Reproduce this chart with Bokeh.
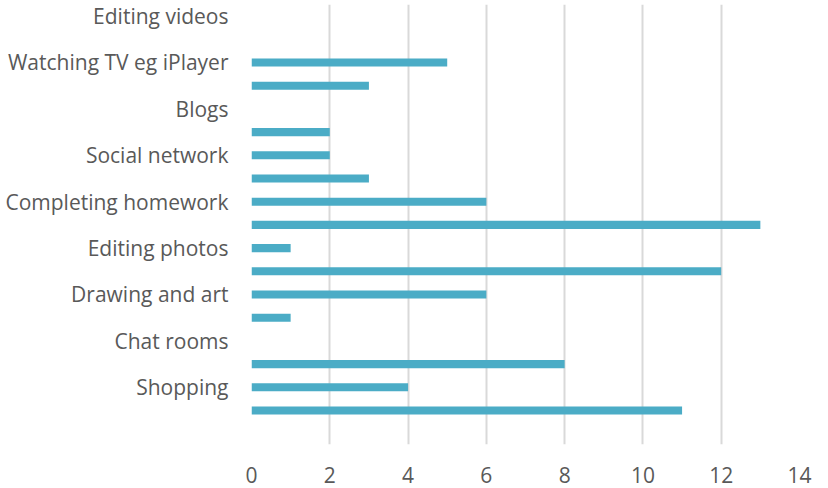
from bokeh.plotting import figure
from bokeh.models import Range1d, FixedTicker
from bokeh.embed import file_html
from bokeh.resources import INLINE

# Categories from bottom to top (every other label is hidden in the reference)
labels = ["", "Shopping", "", "Chat rooms", "", "Drawing and art", "",
          "Editing photos", "", "Completing homework", "", "Social network",
          "", "Blogs", "", "Watching TV eg iPlayer", "", "Editing videos"]
values = [11, 4, 8, 0, 1, 6, 12, 1, 13, 6, 3, 2, 2, 0, 3, 5, 0, 0]
x_ticks = [0, 2, 4, 6, 8, 10, 12, 14]

positions = list(range(len(values)))

p = figure(width=828, height=488, output_backend="svg", toolbar_location=None,
           x_range=Range1d(0, 14), y_range=Range1d(-1.466, 17.5),
           min_border_left=251, min_border_right=29, min_border_top=4,
           min_border_bottom=44)
p.outline_line_color = None

p.hbar(y=positions, right=values, left=0, height=0.35, color="#4BACC6", line_color=None)

FONT = "Open Sans"
GREY = "#595959"

p.xaxis.ticker = FixedTicker(ticks=x_ticks)
p.yaxis.ticker = FixedTicker(ticks=[i for i, l in enumerate(labels) if l])
p.yaxis.major_label_overrides = {i: l for i, l in enumerate(labels) if l}

for ax in (p.xaxis[0], p.yaxis[0]):
    ax.axis_line_color = None
    ax.major_tick_line_color = None
    ax.minor_tick_line_color = None
    ax.major_tick_in = 0
    ax.major_tick_out = 0
    ax.minor_tick_in = 0
    ax.minor_tick_out = 0
    ax.major_label_text_font = FONT
    ax.major_label_text_font_size = "21px"
    ax.major_label_text_color = GREY

p.xaxis.major_label_standoff = 22
p.yaxis.major_label_standoff = 23

p.xgrid.grid_line_color = "#D9D9D9"
p.xgrid.grid_line_width = 2
p.ygrid.grid_line_color = None

open("out.html", "w").write(file_html(p, INLINE))
